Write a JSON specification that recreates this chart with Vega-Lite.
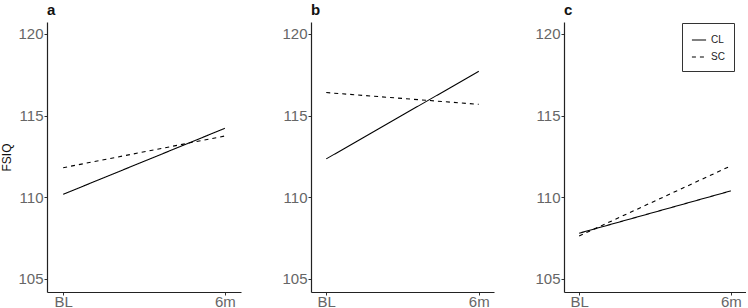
{
  "$schema": "https://vega.github.io/schema/vega-lite/v6.json",
  "padding": {"left": 0, "top": 3, "right": 0, "bottom": 0},
  "spacing": 40,
  "background": "white",
  "config": {
    "view": {"stroke": null},
    "font": "Liberation Sans",
    "axis": {
      "grid": false,
      "domainColor": "#222222",
      "domainWidth": 1.2,
      "tickColor": "#333333",
      "tickSize": 3,
      "labelColor": "#666666",
      "labelFontSize": 15,
      "labelFont": "Liberation Sans",
      "labelPadding": 1,
      "titleFont": "Liberation Sans",
      "titleFontWeight": "normal",
      "titleFontSize": 12,
      "titleColor": "#111111"
    },
    "axisX": {"labelPadding": -1},
    "title": {"anchor": "start", "frame": "group", "fontSize": 15, "fontWeight": "bold", "font": "Liberation Sans", "offset": 4, "color": "#111111"}
  },
  "datasets": {
    "d": [
      {"panel": "a", "time": "BL", "group": "CL", "fsiq": 110.18},
      {"panel": "a", "time": "6m", "group": "CL", "fsiq": 114.22},
      {"panel": "a", "time": "BL", "group": "SC", "fsiq": 111.81},
      {"panel": "a", "time": "6m", "group": "SC", "fsiq": 113.75},
      {"panel": "b", "time": "BL", "group": "CL", "fsiq": 112.35},
      {"panel": "b", "time": "6m", "group": "CL", "fsiq": 117.71},
      {"panel": "b", "time": "BL", "group": "SC", "fsiq": 116.41},
      {"panel": "b", "time": "6m", "group": "SC", "fsiq": 115.69},
      {"panel": "c", "time": "BL", "group": "CL", "fsiq": 107.8},
      {"panel": "c", "time": "6m", "group": "CL", "fsiq": 110.39},
      {"panel": "c", "time": "BL", "group": "SC", "fsiq": 107.63},
      {"panel": "c", "time": "6m", "group": "SC", "fsiq": 111.92}
    ]
  },
  "resolve": {"scale": {"strokeDash": "independent"}, "legend": {"strokeDash": "independent"}},
  "hconcat": [
    {
      "title": "a",
      "width": 194,
      "height": 270,
      "data": {"name": "d"},
      "transform": [{"filter": "datum.panel === 'a'"}],
      "mark": {"type": "line", "color": "black", "strokeWidth": 1.1},
      "encoding": {
        "x": {"field": "time", "type": "ordinal", "sort": ["BL", "6m"], "scale": {"type": "point", "padding": 0.1}, "axis": {"title": null, "labelAngle": 0}},
        "y": {"field": "fsiq", "type": "quantitative", "scale": {"domain": [104.2, 120.73], "nice": false, "zero": false}, "axis": {"title": "FSIQ", "values": [105, 110, 115, 120], "titlePadding": 4}},
        "strokeDash": {"field": "group", "type": "nominal", "scale": {"domain": ["CL", "SC"], "range": [[1, 0], [4, 4]]}, "legend": null}
      }
    },
    {
      "title": "b",
      "width": 183,
      "height": 270,
      "data": {"name": "d"},
      "transform": [{"filter": "datum.panel === 'b'"}],
      "mark": {"type": "line", "color": "black", "strokeWidth": 1.1},
      "encoding": {
        "x": {"field": "time", "type": "ordinal", "sort": ["BL", "6m"], "scale": {"type": "point", "padding": 0.1}, "axis": {"title": null, "labelAngle": 0}},
        "y": {"field": "fsiq", "type": "quantitative", "scale": {"domain": [104.2, 120.73], "nice": false, "zero": false}, "axis": {"title": null, "values": [105, 110, 115, 120]}},
        "strokeDash": {"field": "group", "type": "nominal", "scale": {"domain": ["CL", "SC"], "range": [[1, 0], [4, 4]]}, "legend": null}
      }
    },
    {
      "title": "c",
      "width": 182,
      "height": 270,
      "data": {"name": "d"},
      "transform": [{"filter": "datum.panel === 'c'"}],
      "mark": {"type": "line", "color": "black", "strokeWidth": 1.1},
      "encoding": {
        "x": {"field": "time", "type": "ordinal", "sort": ["BL", "6m"], "scale": {"type": "point", "padding": 0.1}, "axis": {"title": null, "labelAngle": 0}},
        "y": {"field": "fsiq", "type": "quantitative", "scale": {"domain": [104.2, 120.73], "nice": false, "zero": false}, "axis": {"title": null, "values": [105, 110, 115, 120]}},
        "strokeDash": {
          "field": "group", "type": "nominal",
          "scale": {"domain": ["CL", "SC"], "range": [[1, 0], [4, 4]]},
          "legend": {
            "title": null,
            "orient": "none",
            "legendX": 118,
            "legendY": 1,
            "strokeColor": "#333333",
            "padding": 9,
            "symbolType": "stroke",
            "symbolSize": 200,
            "symbolStrokeColor": "black",
            "symbolStrokeWidth": 1.1,
            "labelFontSize": 10,
            "labelColor": "#222222",
            "labelFont": "Liberation Sans",
            "rowPadding": 4
          }
        }
      }
    }
  ]
}
